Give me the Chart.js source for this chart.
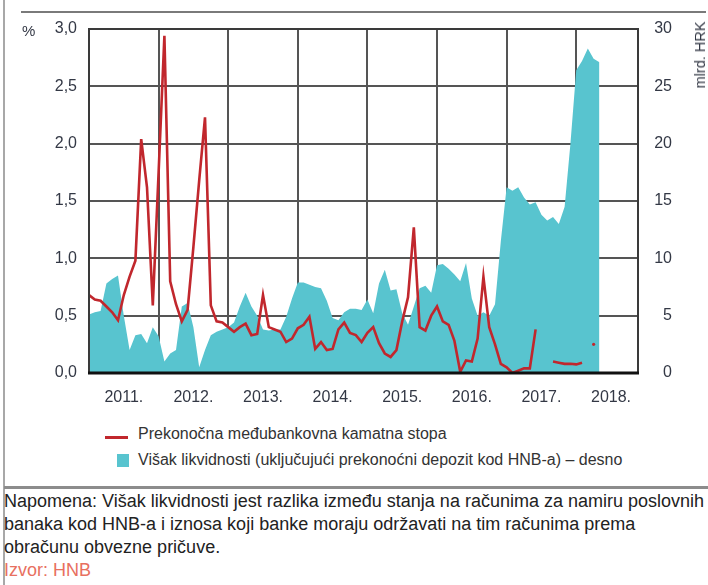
<!DOCTYPE html>
<html>
<head>
<meta charset="utf-8">
<script src="https://cdn.jsdelivr.net/npm/chart.js@4/dist/chart.umd.min.js"></script>
<style>
    html, body { margin: 0; padding: 0; background: #fff; }
    body { width: 708px; height: 585px; position: relative; overflow: hidden; font-family: "Liberation Sans", Arial, sans-serif; color: #2b2b2b; }
    #wrap { position: absolute; left: 0; top: 0; width: 708px; height: 410px; }
    .frame-left { position: absolute; left: 3px; top: 0; width: 2px; height: 585px; background: #a8a8a8; }
    .rule-top { position: absolute; left: 21px; top: 11px; width: 685px; height: 2px; background: #7a7a7a; }
    .rule-mid { position: absolute; left: 4px; top: 486px; width: 704px; height: 3px; background: #8c8c8c; }
    .unit { position: absolute; font-size: 15px; color: #333845; line-height: 20px; }
    .unit.left { left: 22px; top: 21px; }
    .unit.right { left: 700px; top: 55px; transform: translate(-50%, -50%) rotate(-90deg); white-space: nowrap; font-size: 14.5px; }
    .legend { position: absolute; left: 0; top: 0; font-size: 16px; line-height: 20px; color: #333; }
    .legend .row { position: absolute; left: 138px; white-space: nowrap; }
    .legend .line { position: absolute; left: 105px; width: 23px; height: 2.5px; background: #c1272d; }
    .legend .box { position: absolute; left: 117px; width: 12px; height: 13px; background: #58c4cf; }
    .note { position: absolute; left: 4px; top: 490px; font-size: 18px; line-height: 23px; white-space: nowrap; color: #222; }
    .note .src { color: #e8705f; }
</style>
</head>
<body>
<div class="frame-left"></div>
<div class="rule-top"></div>
<div id="wrap"><canvas id="chart"></canvas></div>
<div class="unit left">%</div>
<div class="unit right">mlrd. HRK</div>
<div class="legend">
    <div class="line" style="top:436px"></div>
    <div class="row" style="top:424px">Prekonočna međubankovna kamatna stopa</div>
    <div class="box" style="top:454px"></div>
    <div class="row" style="top:450px">Višak likvidnosti (uključujući prekonoćni depozit kod HNB-a) – desno</div>
</div>
<div class="rule-mid"></div>
<div class="note">
    Napomena: Višak likvidnosti jest razlika između stanja na računima za namiru poslovnih<br>
    banaka kod HNB-a i iznosa koji banke moraju održavati na tim računima prema<br>
    obračunu obvezne pričuve.<br>
    <span class="src">Izvor: HNB</span>
</div>

<script>
// monthly values, first entry = January 2011
const years = ['2011.', '2012.', '2013.', '2014.', '2015.', '2016.', '2017.', '2018.'];

// overnight interbank rate, % (null = no data)
const rate = [
    0.68, 0.64, 0.63, 0.58, 0.53, 0.46, 0.68, 0.84, 0.98, 2.04, 1.62, 0.59,
    1.75, 2.94, 0.80, 0.60, 0.45, 0.55, 1.10, 1.68, 2.23, 0.59, 0.45, 0.44,
    0.40, 0.36, 0.40, 0.43, 0.33, 0.34, 0.68, 0.40, 0.38, 0.36, 0.27, 0.30,
    0.39, 0.42, 0.49, 0.21, 0.27, 0.20, 0.21, 0.38, 0.44, 0.35, 0.33, 0.27,
    0.35, 0.40, 0.26, 0.17, 0.14, 0.20, 0.45, 0.66, 1.27, 0.40, 0.37, 0.50,
    0.58, 0.45, 0.42, 0.28, 0.01, 0.11, 0.10, 0.30, 0.84, 0.40, 0.25, 0.08,
    0.05, 0.00, 0.02, 0.04, 0.04, 0.38, null, null, 0.10, 0.09, 0.08, 0.08,
    0.075, 0.09, null, 0.25,
];

// excess liquidity, bn HRK (right axis)
const liquidity = [
    5.1, 5.3, 5.4, 7.8, 8.2, 8.5, 5.0, 2.0, 3.3, 3.4, 2.6, 4.0,
    3.2, 1.0, 1.7, 2.0, 5.8, 6.1, 4.0, 0.5, 2.0, 3.3, 3.6, 3.8,
    4.0, 4.4, 5.8, 7.0, 5.8, 5.0, 3.8, 3.7, 3.8, 3.8, 4.9, 6.5,
    7.9, 7.9, 7.7, 7.5, 7.4, 6.3, 4.8, 4.6, 5.3, 5.6, 5.6, 5.5,
    6.4, 5.2, 7.8, 9.0, 7.2, 7.3, 5.2, 4.2, 5.8, 7.4, 7.6, 7.0,
    9.4, 9.5, 9.1, 8.6, 8.0, 9.6, 6.5, 5.0, 5.3, 5.0, 6.0, 11.5,
    16.2, 15.9, 16.2, 15.3, 14.7, 14.9, 13.8, 13.3, 13.6, 13.0, 14.5, 20.0,
    26.4, 27.2, 28.3, 27.4, 27.1,
];

const RED = '#c1272d';
const TEAL = '#58c4cf';
const GRID = '#555';
const tickFont = { family: '"Liberation Sans", Arial, sans-serif', size: 16 };

const toPoints = arr => arr.map((y, x) => ({ x, y }));

// plot frame drawn over the area fill
const framePlugin = {
    id: 'frame',
    afterDatasetsDraw(chart) {
        const { ctx, chartArea: a } = chart;
        ctx.save();
        ctx.strokeStyle = '#3a3a3a';
        ctx.lineWidth = 2;
        ctx.strokeRect(a.left, a.top, a.right - a.left, a.bottom - a.top);
        ctx.strokeStyle = '#111';
        ctx.lineWidth = 3;
        ctx.beginPath();
        ctx.moveTo(a.left - 1, a.bottom);
        ctx.lineTo(a.right + 1, a.bottom);
        ctx.stroke();
        ctx.restore();
    },
};

new Chart(document.getElementById('chart'), {
    type: 'line',
    data: {
        datasets: [
            {
                label: 'Prekonočna međubankovna kamatna stopa',
                data: toPoints(rate),
                yAxisID: 'y',
                borderColor: RED,
                backgroundColor: RED,
                borderWidth: 2.6,
                tension: 0,
                spanGaps: false,
                pointRadius: ctx => {
                    const i = ctx.dataIndex;
                    const lone = rate[i] !== null && rate[i - 1] == null && rate[i + 1] == null;
                    return lone ? 1.6 : 0;
                },
                pointBorderWidth: 0,
                fill: false,
            },
            {
                label: 'Višak likvidnosti (uključujući prekonoćni depozit kod HNB-a) – desno',
                data: toPoints(liquidity),
                yAxisID: 'y1',
                borderWidth: 0,
                borderColor: TEAL,
                backgroundColor: TEAL,
                pointRadius: 0,
                tension: 0,
                fill: 'origin',
            },
        ],
    },
    options: {
        responsive: true,
        maintainAspectRatio: false,
        animation: false,
        layout: { padding: { top: 29, left: 0, right: 36, bottom: 0 } },
        plugins: { legend: { display: false }, tooltip: { enabled: false } },
        scales: {
            x: {
                type: 'linear',
                min: 0,
                max: 94.65,
                afterBuildTicks: axis => {
                    axis.ticks = years.flatMap((_, i) => [{ value: i * 12 }, { value: i * 12 + 6 }]);
                },
                afterFit: axis => { axis.height = 37; },
                grid: {
                    color: ctx => (ctx.tick && ctx.tick.value % 12 === 0 ? GRID : 'transparent'),
                    lineWidth: 2,
                    drawTicks: false,
                },
                border: { display: false },
                ticks: {
                    autoSkip: false,
                    maxRotation: 0,
                    padding: 15,
                    color: '#333845',
                    font: tickFont,
                    callback: v => (v % 12 === 6 ? years[(v - 6) / 12] : ''),
                },
            },
            y: {
                position: 'left',
                min: 0,
                max: 3,
                afterFit: axis => { axis.width = 89; },
                grid: { color: GRID, lineWidth: 2, drawTicks: false },
                border: { display: false },
                ticks: {
                    stepSize: 0.5,
                    padding: 12,
                    color: '#333845',
                    font: tickFont,
                    callback: v => v.toFixed(1).replace('.', ','),
                },
            },
            y1: {
                position: 'right',
                min: 0,
                max: 30,
                afterFit: axis => { axis.width = 34; },
                grid: { display: false, drawTicks: false },
                border: { display: false },
                ticks: {
                    stepSize: 5,
                    padding: 14,
                    crossAlign: 'far',
                    color: '#333845',
                    font: tickFont,
                },
            },
        },
    },
    plugins: [framePlugin],
});
</script>
</body>
</html>
